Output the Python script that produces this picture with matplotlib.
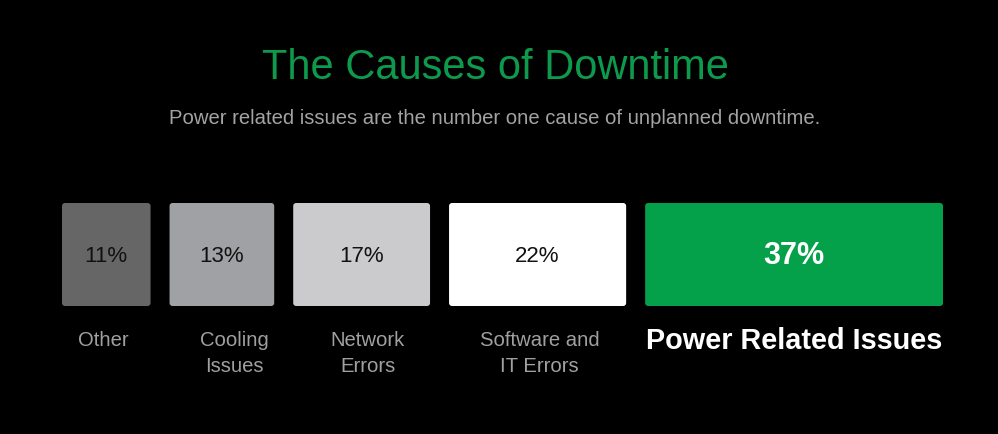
import numpy as np
from matplotlib import pyplot as plt
from matplotlib.patches import FancyBboxPatch

# chart data
labels = ['Other', 'Cooling\nIssues', 'Network\nErrors', 'Software and\nIT Errors', 'Power Related Issues']
pct = [11, 13, 17, 22, 37]
colors = ['#666666', '#a0a1a4', '#cbcbcd', '#ffffff', '#05a04a']

title = 'The Causes of Downtime'
subtitle = 'Power related issues are the number one cause of unplanned downtime.'

W, H = 998, 435
plt.rcParams['font.family'] = ['Liberation Sans', 'DejaVu Sans']

fig = plt.figure(figsize=(W / 100, H / 100), dpi=100, facecolor='black')
ax = fig.add_axes([0, 0, 1, 1])
ax.set_xlim(0, W)
ax.set_ylim(H, 0)
ax.set_facecolor('black')
ax.axis('off')

# layout in pixels
px_per_pct = 8.05
gap = 19
x0 = 62
top, bottom = 204, 307
label_dx = [-3, 13, 6, 2, 0]  # labels are not quite centred under boxes

x = x0
for i, (lab, p, c) in enumerate(zip(labels, pct, colors)):
	w = p * px_per_pct
	box = FancyBboxPatch((x, top), w, bottom - top,
		boxstyle='round,pad=0,rounding_size=3', fc=c, ec='none')
	ax.add_patch(box)
	cx = x + w / 2
	last = (i == len(pct) - 1)
	if last:
		ax.text(cx, (top + bottom) / 2, '%d%%' % p, color='white', fontsize=22,
			fontweight='bold', ha='center', va='center')
		ax.text(cx + label_dx[i], 341, lab, color='white', fontsize=20.8, fontweight='bold',
			ha='center', va='center')
	else:
		ax.text(cx, (top + bottom) / 2 + 1, '%d%%' % p, color='#111111', fontsize=16,
			ha='center', va='center')
		for j, line in enumerate(lab.split('\n')):
			ax.text(cx + label_dx[i], 341 + 26 * j, line, color='#a0a0a0', fontsize=14.6,
				ha='center', va='center')
	x += w + gap

ax.text(W / 2 - 4, 68, title, color='#0d9a4c', fontsize=30, ha='center', va='center')
ax.text(W / 2 - 4, 119, subtitle, color='#a3a3a3', fontsize=14.6, ha='center', va='center')

fig.savefig('out.png', dpi=100, facecolor='black')
